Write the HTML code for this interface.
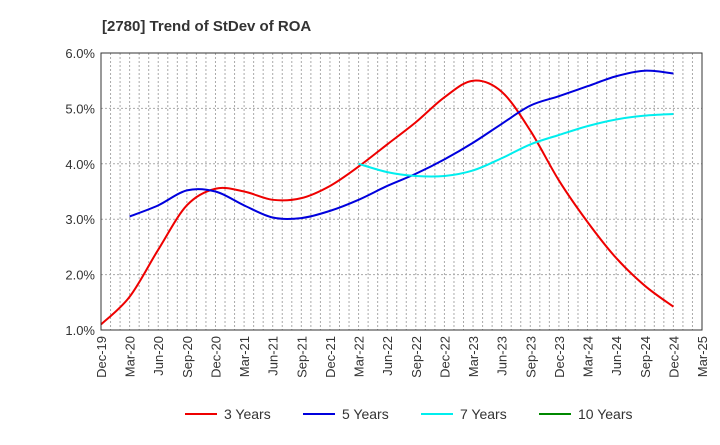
<!DOCTYPE html>
<html><head><meta charset="utf-8"><style>
body{margin:0;background:#fff;font-family:"Liberation Sans",Arial,sans-serif;}
svg text{font-family:"Liberation Sans",Arial,sans-serif;}
</style></head><body>
<svg id="c" width="720" height="440" xmlns="http://www.w3.org/2000/svg">
<text x="102" y="31" font-size="15" font-weight="bold" fill="#333">[2780]  Trend of StDev of ROA</text>
<g id="grid"></g><g id="series"></g><g id="axes"></g><g id="legend"></g>
</svg>
<script>
const xLabels=["Dec-19","Mar-20","Jun-20","Sep-20","Dec-20","Mar-21","Jun-21","Sep-21","Dec-21","Mar-22","Jun-22","Sep-22","Dec-22","Mar-23","Jun-23","Sep-23","Dec-23","Mar-24","Jun-24","Sep-24","Dec-24","Mar-25"];
const yTicks=[1,2,3,4,5,6];
const s3=[1.1,1.6,2.45,3.25,3.55,3.5,3.35,3.38,3.6,3.95,4.35,4.75,5.2,5.5,5.3,4.6,3.7,2.95,2.3,1.8,1.42];
const s5=[null,3.05,3.25,3.52,3.5,3.25,3.03,3.02,3.15,3.35,3.6,3.82,4.08,4.38,4.72,5.05,5.22,5.4,5.58,5.68,5.63];
const s7=[null,null,null,null,null,null,null,null,null,4.0,3.85,3.78,3.78,3.88,4.1,4.35,4.52,4.68,4.8,4.87,4.9];
const s10=[];
const L=101,R=702,T=53,B=330;
const NS="http://www.w3.org/2000/svg";
const X=i=>L+(R-L)*i/(xLabels.length-1);
const Y=v=>B-(B-T)*(v-1)/5;
function mk(tag,attrs,parent){const e=document.createElementNS(NS,tag);for(const k in attrs)e.setAttribute(k,attrs[k]);document.getElementById(parent).appendChild(e);return e;}
for(let m=1;m<(xLabels.length-1)*3;m++){const x=L+(R-L)*m/((xLabels.length-1)*3);
const g=mk('line',{x1:x,x2:x,y1:T,y2:B,stroke:'#aaa','stroke-dasharray':'2,2','stroke-width':1},'grid');

}
yTicks.forEach(v=>{if(v>1&&v<6){const g=mk('line',{x1:L,x2:R,y1:Y(v),y2:Y(v),stroke:'#aaa','stroke-dasharray':'2,2'},'grid');

}
const t=mk('text',{x:L-6,y:Y(v)+5,'text-anchor':'end','font-size':13,fill:'#333'},'axes');t.textContent=v.toFixed(1)+'%';

});
const fr=mk('rect',{x:L,y:T,width:R-L,height:B-T,fill:'none',stroke:'#333','stroke-width':1},'axes');


xLabels.forEach((l,i)=>{const t=mk('text',{transform:`translate(${X(i)+5},${B+6}) rotate(-90)`,'text-anchor':'end','font-size':13,fill:'#333'},'axes');t.textContent=l;

});
function path(arr){const p=[];arr.forEach((v,i)=>{if(v!=null)p.push([X(i),Y(v)]);});if(p.length<2)return '';
let d=`M${p[0][0]},${p[0][1]}`;for(let i=0;i<p.length-1;i++){const p0=p[i-1]||p[i],p1=p[i],p2=p[i+1],p3=p[i+2]||p2;
d+=` C${p1[0]+(p2[0]-p0[0])/6},${p1[1]+(p2[1]-p0[1])/6} ${p2[0]-(p3[0]-p1[0])/6},${p2[1]-(p3[1]-p1[1])/6} ${p2[0]},${p2[1]}`;}return d;}
[[s3,'#e00','series-3-years'],[s5,'#00d','series-5-years'],[s7,'#0ee','series-7-years'],[s10,'#080','series-10-years']].forEach(([a,c,n])=>{
const e=mk('path',{d:path(a),fill:'none',stroke:c,'stroke-width':2},'series');

});
[['3 Years','#e00',185],['5 Years','#00d',303],['7 Years','#0ee',421],['10 Years','#080',539]].forEach(([n,c,x])=>{
const l=mk('line',{x1:x,x2:x+32,y1:414,y2:414,stroke:c,'stroke-width':2},'legend');


const t=mk('text',{x:x+39,y:419,'font-size':14,fill:'#333'},'legend');t.textContent=n;

});
</script>
</body></html>
